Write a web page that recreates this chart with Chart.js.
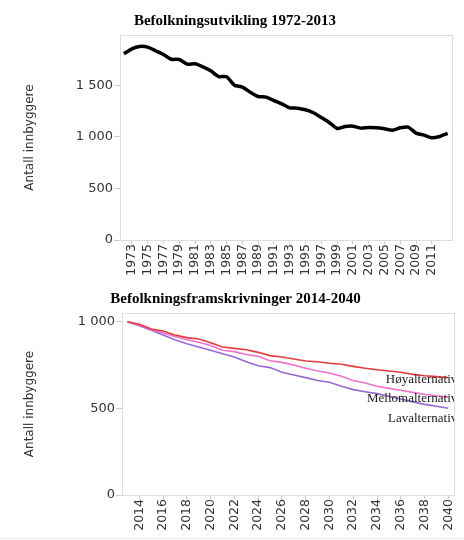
<!DOCTYPE html>
<html>
<head>
<meta charset="utf-8">
<script src="https://cdn.jsdelivr.net/npm/chart.js@4/dist/chart.umd.min.js"></script>
<style>
    body { margin: 0; background: #fff; width: 464px; height: 540px; overflow: hidden; position: relative; }
    #utvikling { position: absolute; left: 0; top: 0; }
    #framskriving { position: absolute; left: 0; top: 285px; }
    #strek { position: absolute; left: 0; top: 538px; width: 464px; border-top: 1px solid #e8e8e8; }
</style>
</head>
<body>
<canvas id="utvikling" width="464" height="285"></canvas>
<canvas id="framskriving" width="464" height="255"></canvas>
<div id="strek"></div>
<script>
// Befolkningsutvikling 1972-2013
const aar = [1972, 1973, 1974, 1975, 1976, 1977, 1978, 1979, 1980, 1981, 1982, 1983, 1984, 1985,
    1986, 1987, 1988, 1989, 1990, 1991, 1992, 1993, 1994, 1995, 1996, 1997, 1998, 1999,
    2000, 2001, 2002, 2003, 2004, 2005, 2006, 2007, 2008, 2009, 2010, 2011, 2012, 2013];
const innbyggere = [1807, 1856, 1879, 1872, 1837, 1801, 1755, 1752, 1707, 1710, 1681, 1642, 1587, 1584,
    1503, 1484, 1435, 1393, 1387, 1354, 1322, 1283, 1280, 1264, 1235, 1189, 1141, 1083,
    1102, 1105, 1086, 1092, 1089, 1079, 1066, 1089, 1096, 1037, 1018, 992, 1005, 1034];
const aarEtiketter = [1973, 1975, 1977, 1979, 1981, 1983, 1985, 1987, 1989, 1991,
    1993, 1995, 1997, 1999, 2001, 2003, 2005, 2007, 2009, 2011];
const yEtiketter1 = [0, 500, 1000, 1500];

// Befolkningsframskrivninger 2014-2040
const framAar = [2013, 2014, 2015, 2016, 2017, 2018, 2019, 2020, 2021, 2022, 2023, 2024, 2025, 2026,
    2027, 2028, 2029, 2030, 2031, 2032, 2033, 2034, 2035, 2036, 2037, 2038, 2039, 2040];
const hoy = [1000, 985, 958, 946, 923, 908, 900, 879, 854, 846, 838, 823, 804, 796,
    785, 773, 769, 760, 754, 742, 731, 723, 715, 708, 696, 688, 683, 677];
const mellom = [1000, 981, 954, 935, 915, 896, 881, 862, 835, 827, 811, 800, 775, 765,
    750, 731, 715, 704, 685, 661, 646, 627, 615, 604, 592, 581, 573, 563];
const lav = [1000, 977, 950, 923, 896, 873, 854, 835, 815, 796, 769, 746, 735, 708,
    692, 677, 661, 650, 627, 608, 596, 585, 569, 554, 538, 523, 512, 500];
const alternativer = ['Høyalternativ', 'Mellomalternativ', 'Lavalternativ'];
const framEtiketter = [2014, 2016, 2018, 2020, 2022, 2024, 2026, 2028, 2030, 2032, 2034, 2036, 2038, 2040];
const yEtiketter2 = [0, 500, 1000];

const sans = "'DejaVu Sans', Verdana, sans-serif";
const serif = "'Liberation Serif', 'Times New Roman', serif";

function tusen(v) {
    return String(v).replace(/\B(?=(\d{3})+(?!\d))/g, ' ');
}

// ramme rundt plottet
const ramme = {
    id: 'ramme',
    beforeDatasetsDraw(chart) {
        const a = chart.chartArea;
        const ctx = chart.ctx;
        ctx.save();
        ctx.strokeStyle = '#dddddd';
        ctx.lineWidth = 1;
        ctx.strokeRect(Math.round(a.left) + 0.5, Math.round(a.top) + 0.5,
            Math.round(a.right - a.left), Math.round(a.bottom - a.top));
        ctx.restore();
    }
};

// tekst ved enden av linjene
const sluttEtiketter = {
    id: 'sluttEtiketter',
    afterDatasetsDraw(chart) {
        const ctx = chart.ctx;
        const a = chart.chartArea;
        const dy = [2, 1, 10];
        ctx.save();
        ctx.beginPath();
        ctx.rect(a.left, a.top, a.right - a.left, a.bottom - a.top);
        ctx.clip();
        ctx.font = '13px ' + serif;
        ctx.fillStyle = '#222';
        ctx.textAlign = 'right';
        ctx.textBaseline = 'middle';
        chart.data.datasets.forEach((ds, i) => {
            const pts = chart.getDatasetMeta(i).data;
            const p = pts[pts.length - 1];
            ctx.fillText(ds.label, p.x + 9, p.y + dy[i]);
        });
        ctx.restore();
    }
};

function lagSkalaer(xMin, xMax, xTicks, yMax, yTicks, aksebredde, tittelPad) {
    return {
        x: {
            type: 'linear',
            min: xMin,
            max: xMax,
            afterBuildTicks: (s) => { s.ticks = xTicks.map((v) => ({ value: v })); },
            afterFit: (s) => { s.height = 45; },
            border: { display: false },
            grid: { drawOnChartArea: false, drawTicks: true, tickLength: 4, color: '#cccccc' },
            ticks: {
                autoSkip: false,
                minRotation: 90,
                maxRotation: 90,
                padding: 0,
                color: '#333',
                font: { family: sans, size: 12.5 },
                callback: (v) => String(v),
            },
        },
        y: {
            min: 0,
            max: yMax,
            afterBuildTicks: (s) => { s.ticks = yTicks.map((v) => ({ value: v })); },
            afterFit: (s) => { s.width = aksebredde; },
            border: { display: false },
            grid: { drawOnChartArea: false, drawTicks: true, tickLength: 6, color: '#cccccc' },
            ticks: {
                padding: 1,
                color: '#333',
                font: { family: sans, size: 13 },
                callback: (v) => tusen(v),
            },
            title: {
                display: true,
                text: 'Antall innbyggere',
                color: '#333',
                font: { family: sans, size: 12 },
                padding: { top: tittelPad, bottom: 0 },
            },
        },
    };
}

new Chart(document.getElementById('utvikling'), {
    type: 'line',
    data: {
        datasets: [{
            label: 'Antall innbyggere',
            data: aar.map((a, i) => ({ x: a, y: innbyggere[i] })),
            borderColor: '#000',
            borderWidth: 3.5,
            pointRadius: 0,
            tension: 0.2,
        }],
    },
    options: {
        responsive: false,
        animation: false,
        layout: { padding: { left: 18, right: 12, top: 0, bottom: 0 } },
        plugins: {
            legend: { display: false },
            tooltip: { enabled: false },
            title: {
                display: true,
                text: 'Befolkningsutvikling 1972-2013',
                color: '#000',
                font: { family: serif, size: 15, weight: 'bold' },
                padding: { top: 12, bottom: 5 },
            },
        },
        scales: lagSkalaer(1971.5, 2013.55, aarEtiketter, 1990, yEtiketter1, 102, 5),
    },
    plugins: [ramme],
});

const farger = ['#e23b3f', '#ee72cc', '#9a68d4'];
const serier = [hoy, mellom, lav];

new Chart(document.getElementById('framskriving'), {
    type: 'line',
    data: {
        datasets: serier.map((s, k) => ({
            label: alternativer[k],
            data: framAar.map((a, i) => ({ x: a, y: s[i] })),
            borderColor: farger[k],
            borderWidth: 1.6,
            pointRadius: 0,
            tension: 0,
        })),
    },
    options: {
        responsive: false,
        animation: false,
        layout: { padding: { left: 17, right: 10, top: 0, bottom: 0 } },
        plugins: {
            legend: { display: false },
            tooltip: { enabled: false },
            title: {
                display: true,
                text: 'Befolkningsframskrivninger 2014-2040',
                color: '#000',
                font: { family: serif, size: 15, weight: 'bold' },
                padding: { top: 5, bottom: 5 },
            },
        },
        scales: lagSkalaer(2012.54, 2040.48, framEtiketter, 1050, yEtiketter2, 105, 6),
    },
    plugins: [ramme, sluttEtiketter],
});
</script>
</body>
</html>
